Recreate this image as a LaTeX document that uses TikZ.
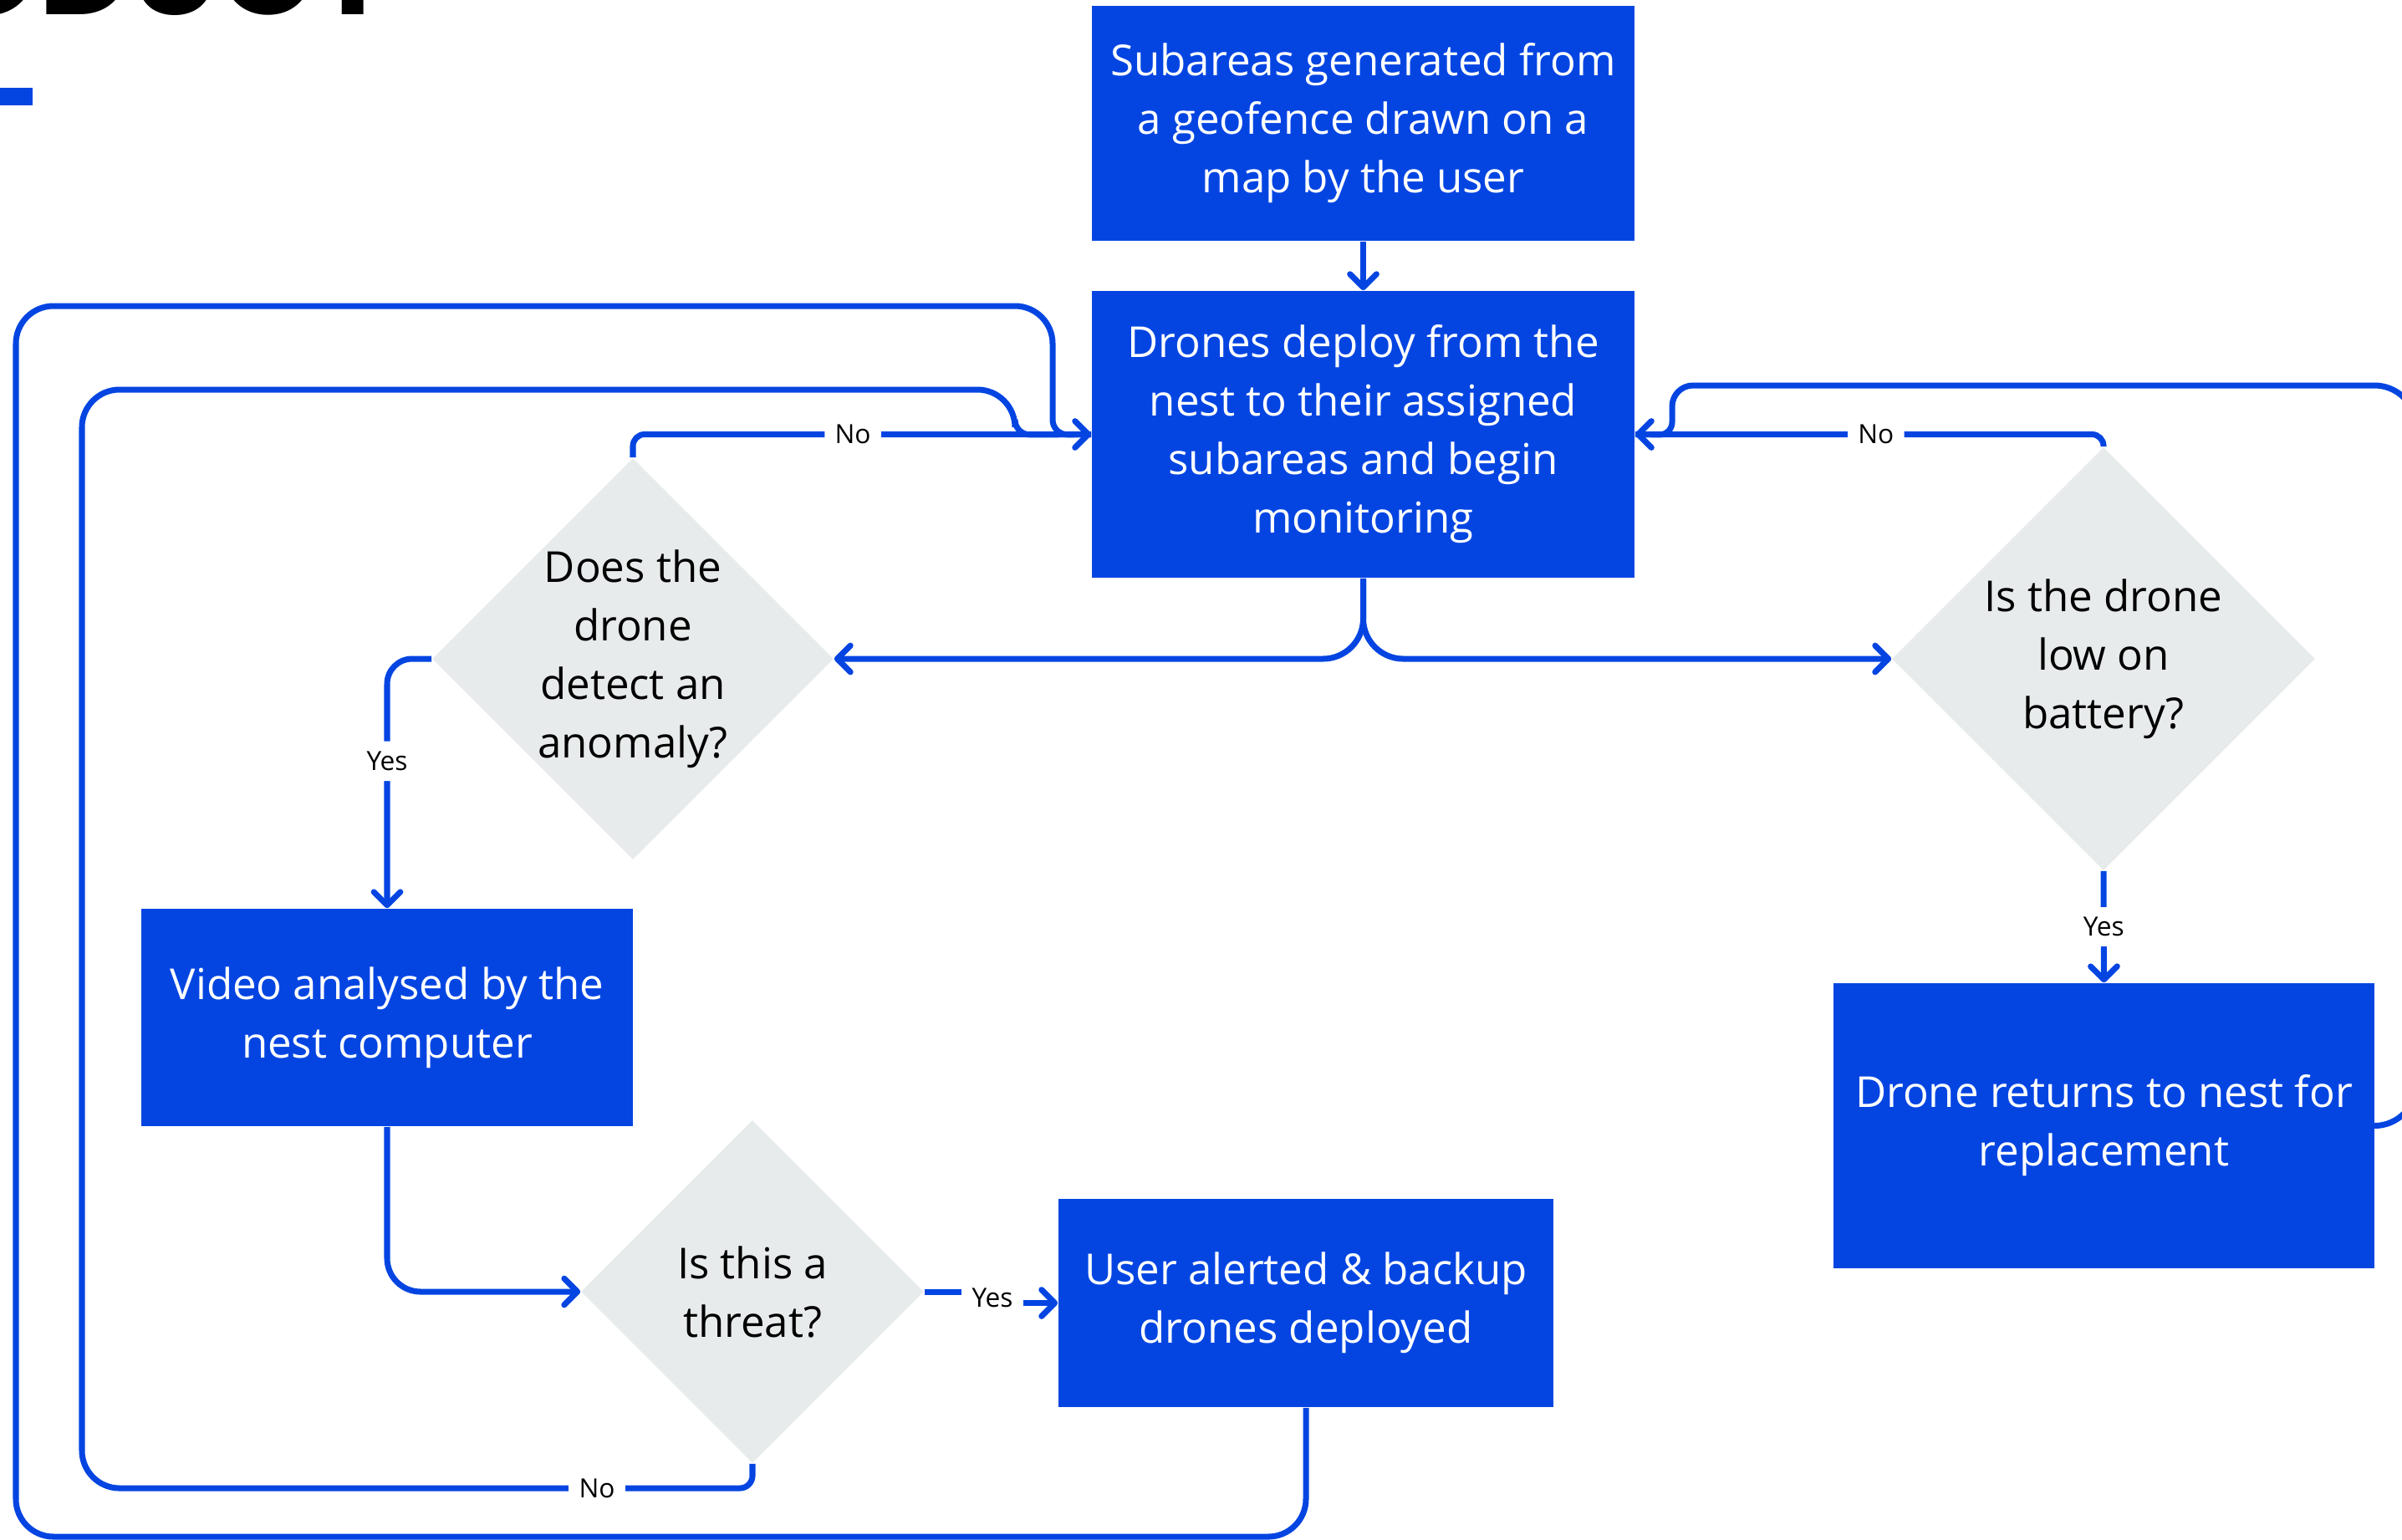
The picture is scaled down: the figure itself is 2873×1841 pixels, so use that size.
\documentclass[tikz,border=0pt]{standalone}
\usepackage{fontspec}
\setmainfont{Open Sans}
\newfontfamily\titlefont{Poppins}
\usepackage{tikz}
\usetikzlibrary{shapes.geometric,positioning}
\usetikzlibrary{arrows.meta}
\definecolor{nestblue}{HTML}{0445E2}
\definecolor{askgray}{HTML}{E8EBEC}
\tikzset{
  stepnode/.style = {rectangle, fill=nestblue, text=white, align=center,
    inner sep=0pt, font=\fontsize{14.5}{19.9}\selectfont},
  decision/.style = {diamond, aspect=1, fill=askgray, inner sep=0pt},
  asktext/.style = {align=center, text=black, font=\fontsize{14.5}{19.9}\selectfont},
  answer/.style = {fill=white, inner sep=3.5pt, text=black, font=\fontsize{9}{10}\selectfont},
  flow/.style = {draw=nestblue, line width=2pt},
}
\begin{document}
\begin{tikzpicture}[x=0.01cm,y=-0.01cm,>={Straight Barb[round,length=4.5pt,width=9pt]}]
\useasboundingbox (0,0) rectangle (2873,1841);
\clip (0,0) rectangle (2873,1841);
% cut-off heading
\node[anchor=base east, inner sep=0pt, font=\titlefont\bfseries\fontsize{43}{43}\selectfont] (heading) at (468,17) {PRODUCT};
\fill[nestblue] (0,105) rectangle (39,126);

\node[stepnode, minimum width=6.49cm, minimum height=2.81cm] (geofence) at (1630.5,147.5) {Subareas generated from\\a geofence drawn on a\\map by the user};
\node[stepnode, minimum width=6.49cm, minimum height=3.43cm] (deploy) at (1630.5,519.5) {Drones deploy from the\\nest to their assigned\\subareas and begin\\monitoring};
\node[decision, minimum size=4.8cm, label={[asktext]center:{Does the\\drone\\detect an\\anomaly?}}] (anomaly) at (757,788) {};
\node[decision, minimum size=5.06cm, label={[asktext]center:{Is the drone\\low on\\battery?}}] (battery) at (2516,788) {};
\node[stepnode, minimum width=5.88cm, minimum height=2.60cm] (video) at (463,1217) {Video analysed by the\\nest computer};
\node[decision, minimum size=4.1cm, label={[asktext]center:{Is this a\\threat?}}] (threat) at (900,1545) {};
\node[stepnode, minimum width=5.92cm, minimum height=2.49cm] (alert) at (1562,1558.5) {User alerted \& backup\\drones deployed};
\node[stepnode, minimum width=6.47cm, minimum height=3.41cm] (return) at (2516.5,1346.5) {Drone returns to nest for\\replacement};

% loops back to the deploy step
\draw[flow, rounded corners=0.45cm] (alert.south) -- (1562,1838) -- (19,1838) -- (19,366) -- (1259,366) [rounded corners=0.18cm] -- (1259,520) -- (deploy.west);
\draw[flow, rounded corners=0.15cm] (threat.south) -- (900,1780) [rounded corners=0.45cm] -- (98,1780) -- (98,466) -- (1214,466) [rounded corners=0.18cm] -- (1214,520) -- (deploy.west);
\node[answer] (noloop) at (714,1780) {No};
\draw[flow, rounded corners=0.5cm] (return.east) -- (2890,1346.5) -- (2890,461) [rounded corners=0.25cm] -- (2000,461) [rounded corners=0.15cm] -- (2000,520) -- (deploy.east);

\draw[flow,->] (geofence) -- (deploy);
\draw[flow,->,rounded corners=0.48cm] (deploy.south) |- (anomaly.east);
\draw[flow,->,rounded corners=0.48cm] (deploy.south) |- (battery.west);
\draw[flow,->,rounded corners=0.14cm] (anomaly.north) |- (deploy.west) node[answer, pos=0.74] {No};
\draw[flow,->,rounded corners=0.14cm] (battery.north) |- (deploy.east) node[answer, pos=0.743] {No};
\draw[flow,->,rounded corners=0.3cm] (anomaly.west) -| (video.north) node[answer, pos=0.705] {Yes};
\draw[flow,->,rounded corners=0.4cm] (video.south) |- (threat.west);
\draw[flow,->] (battery.south) -- (return.north) node[answer, midway] {Yes};
\node[answer] (yesthreat) at (1187,1552) {};
\draw[flow] (threat.east) -- (threat.east -| yesthreat.center);
\draw[flow,->] (alert.west -| yesthreat.center) -- (alert.west);
\node[answer] at (yesthreat) {Yes};
\end{tikzpicture}
\end{document}
